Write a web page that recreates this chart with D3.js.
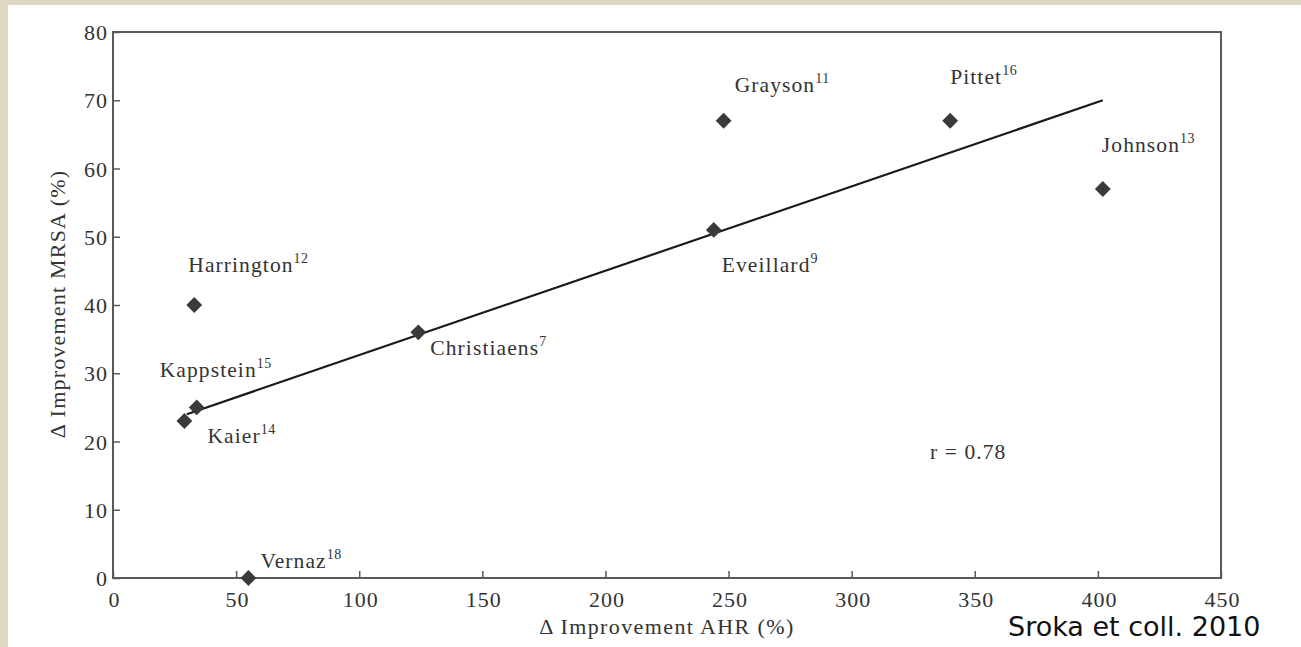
<!DOCTYPE html>
<html>
<head>
<meta charset="utf-8">
<script src="https://cdn.jsdelivr.net/npm/d3@7"></script>
<style>
  html, body { margin: 0; padding: 0; background: #ded8c2; }
  svg { display: block; }
</style>
</head>
<body>
<div id="chart"></div>
<script>
// data
const studies = ["Harrington", "Kappstein", "Kaier", "Vernaz", "Christiaens", "Eveillard", "Grayson", "Pittet", "Johnson"];
const refs = ["12", "15", "14", "18", "7", "9", "11", "16", "13"];
const ahr = [33, 34, 29, 55, 124, 244, 248, 340, 402];
const mrsa = [40, 25, 23, 0, 36, 51, 67, 67, 57];
const fitX = [30, 402];
const fitY = [24, 70];
const xTicks = [0, 50, 100, 150, 200, 250, 300, 350, 400, 450];
const yTicks = [0, 10, 20, 30, 40, 50, 60, 70, 80];

// label placement relative to marker (px)
const labelDx = [-6, -37, 23, 12, 12, 8, 11, 0, -1];
const labelDy = [-33, -30, 22, -10, 23, 42, -29, -37, -37];

const W = 1301, H = 647;
const plot = {left: 113, right: 1221, top: 32, bottom: 578};
const ink = "#333";
const serif = "'Liberation Serif', 'DejaVu Serif', serif";

const svg = d3.select("#chart").append("svg")
  .attr("width", W).attr("height", H);

svg.append("rect").attr("x", 8).attr("y", 5)
  .attr("width", W - 8).attr("height", H - 5).attr("fill", "#fff");

const x = d3.scaleLinear().domain([0, 450]).range([plot.left, plot.right]);
const y = d3.scaleLinear().domain([0, 80]).range([plot.bottom, plot.top]);

// frame
svg.append("rect")
  .attr("x", plot.left).attr("y", plot.top)
  .attr("width", plot.right - plot.left).attr("height", plot.bottom - plot.top)
  .attr("fill", "none").attr("stroke", "#5a5a5a").attr("stroke-width", 2);

// axes, ticks inward
const xAxis = svg.append("g")
  .attr("transform", `translate(0,${plot.bottom})`)
  .call(d3.axisBottom(x).tickValues(xTicks).tickSizeInner(-7).tickSizeOuter(0).tickPadding(29));
const yAxis = svg.append("g")
  .attr("transform", `translate(${plot.left},0)`)
  .call(d3.axisLeft(y).tickValues(yTicks).tickSizeInner(-7).tickSizeOuter(0).tickPadding(5));

[xAxis, yAxis].forEach(g => {
  g.select(".domain").remove();
  g.selectAll("line").attr("stroke", "#5a5a5a").attr("stroke-width", 1.5);
  g.selectAll("text")
    .attr("fill", ink)
    .style("font-family", serif)
    .style("font-size", "22px")
    .style("letter-spacing", "1px");
});
xAxis.selectAll("text").attr("dy", "0").attr("dx", 1);
yAxis.selectAll("text").attr("dy", "0.35em");

// axis titles
svg.append("text")
  .attr("x", 667).attr("y", 634)
  .attr("text-anchor", "middle")
  .attr("fill", ink)
  .style("font-family", serif).style("font-size", "22px")
  .style("letter-spacing", "1.4px")
  .text("\u0394 Improvement AHR (%)");

svg.append("text")
  .attr("transform", "translate(65,304) rotate(-90)")
  .attr("text-anchor", "middle")
  .attr("fill", ink)
  .style("font-family", serif).style("font-size", "22px")
  .style("letter-spacing", "1.2px")
  .text("\u0394 Improvement MRSA (%)");

// regression line
svg.append("line")
  .attr("x1", x(fitX[0])).attr("y1", y(fitY[0]))
  .attr("x2", x(fitX[1])).attr("y2", y(fitY[1]))
  .attr("stroke", "#1a1a1a").attr("stroke-width", 2.2);

// markers
const diamond = d3.symbol().type(d3.symbolSquare).size(125);
svg.append("g").selectAll("path")
  .data(studies)
  .join("path")
  .attr("d", diamond)
  .attr("transform", (d, i) => `translate(${x(ahr[i])},${y(mrsa[i])}) rotate(45)`)
  .attr("fill", "#3a3a3a");

// study labels with superscript refs
const labels = svg.append("g").selectAll("text")
  .data(studies)
  .join("text")
  .attr("x", (d, i) => x(ahr[i]) + labelDx[i])
  .attr("y", (d, i) => y(mrsa[i]) + labelDy[i])
  .attr("fill", ink)
  .style("font-family", serif).style("font-size", "21.5px")
  .style("letter-spacing", "1.1px");
labels.append("tspan").text(d => d);
labels.append("tspan")
  .attr("dy", -9)
  .style("font-size", "14px")
  .style("letter-spacing", "0.5px")
  .text((d, i) => refs[i]);

svg.append("text")
  .attr("x", 930).attr("y", 459)
  .attr("fill", ink)
  .style("font-family", serif).style("font-size", "21.5px")
  .style("letter-spacing", "1.1px")
  .text("r = 0.78");

svg.append("text")
  .attr("x", 1008).attr("y", 636)
  .attr("fill", "#111")
  .style("font-family", "'DejaVu Sans', sans-serif").style("font-size", "27px")
  .text("Sroka et coll. 2010");
</script>
</body>
</html>
